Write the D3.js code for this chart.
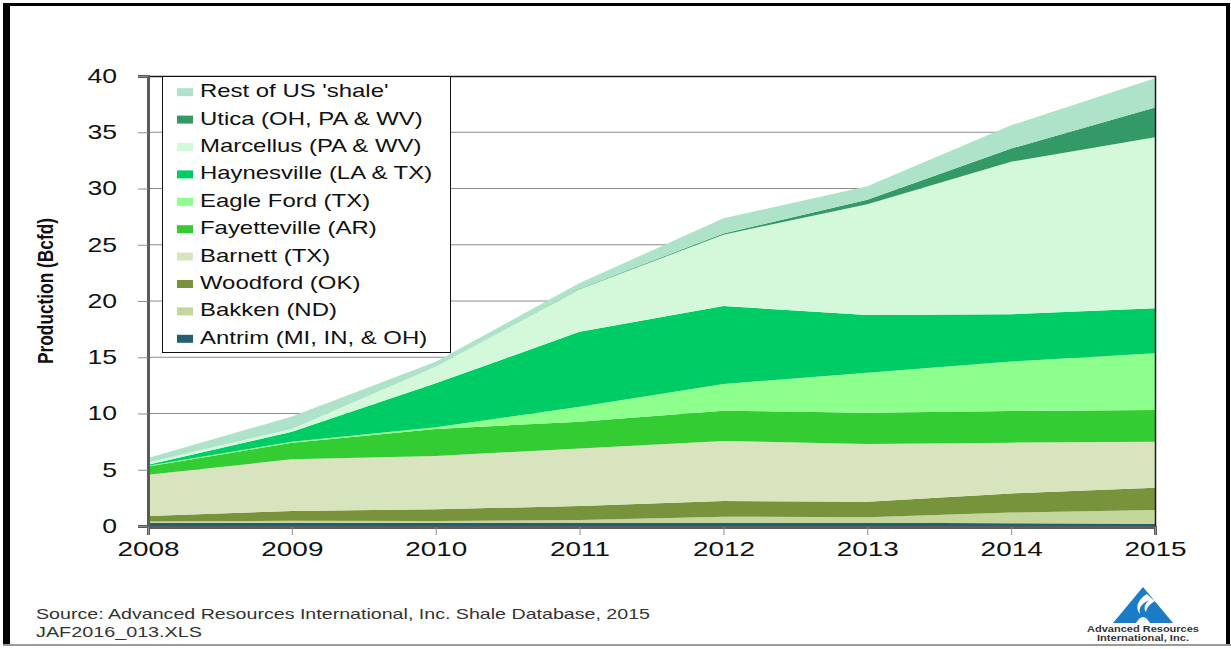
<!DOCTYPE html>
<html>
<head>
<meta charset="utf-8">
<script src="https://cdn.jsdelivr.net/npm/d3@7"></script>
<style>
    body { margin: 0; background: #fff; }
    svg { display: block; font-family: Arial, "Liberation Sans", sans-serif; }
</style>
</head>
<body>
<div id="chart"></div>
<script>
// Shale gas production by play, Bcfd
const years = [2008, 2009, 2010, 2011, 2012, 2013, 2014, 2015];
const antrim       = [0.3, 0.3, 0.3, 0.3, 0.3, 0.3, 0.25, 0.2];
const bakken       = [0.1, 0.17, 0.14, 0.23, 0.53, 0.47, 0.94, 1.22];
const woodford     = [0.5, 0.86, 1.04, 1.25, 1.39, 1.39, 1.71, 1.99];
const barnett      = [3.65, 4.6, 4.74, 5.12, 5.34, 5.13, 4.51, 4.09];
const fayetteville = [0.75, 1.47, 2.4, 2.37, 2.69, 2.78, 2.81, 2.81];
const eagleFord    = [0.05, 0.1, 0.15, 1.33, 2.37, 3.56, 4.4, 5.04];
const haynesville  = [0.1, 0.88, 3.91, 6.67, 6.93, 5.13, 4.2, 4.0];
const marcellus    = [0.2, 0.25, 1.48, 3.77, 6.35, 9.84, 13.56, 15.2];
const utica        = [0, 0, 0, 0.05, 0.1, 0.4, 1.17, 2.65];
const restOfUS     = [0.4, 1.1, 0.44, 0.5, 1.35, 1.2, 2.07, 2.6];

// bottom to top
const seriesNames = [
    'Antrim (MI, IN, & OH)', 'Bakken (ND)', 'Woodford (OK)', 'Barnett (TX)',
    'Fayetteville (AR)', 'Eagle Ford (TX)', 'Haynesville (LA & TX)',
    'Marcellus (PA & WV)', 'Utica (OH, PA & WV)', "Rest of US 'shale'"
];
const seriesValues = [antrim, bakken, woodford, barnett, fayetteville,
    eagleFord, haynesville, marcellus, utica, restOfUS];
const seriesColors = ['#235f6e', '#c3d69b', '#77933c', '#d8e4bd', '#33cc33',
    '#8cff8c', '#00cc66', '#d3f9da', '#339966', '#aee3ca'];
const yTicks = [0, 5, 10, 15, 20, 25, 30, 35, 40];

const SX = 1.33; // text in the source picture is stretched sideways

function renderChart(containerId) {
    const container = d3.select(`#${containerId}`);
    container.selectAll('*').remove();

    const W = 1231, H = 649;
    const plot = { left: 148, right: 1155, top: 76, bottom: 526 };

    const svg = container.append('svg')
        .attr('width', W)
        .attr('height', H);

    svg.append('rect').attr('width', W).attr('height', H).attr('fill', '#fff');

    // outer frame
    svg.append('rect').attr('x', 3).attr('y', 3).attr('width', 7).attr('height', 643).attr('fill', '#000');
    svg.append('rect').attr('x', 3).attr('y', 3).attr('width', 1227).attr('height', 3).attr('fill', '#000');
    svg.append('rect').attr('x', 1226).attr('y', 3).attr('width', 4).attr('height', 643).attr('fill', '#000');
    svg.append('line').attr('x1', 3).attr('x2', 1231).attr('y1', 645).attr('y2', 645)
        .attr('stroke', '#9a9a9a').attr('stroke-width', 2);

    const x = d3.scaleLinear()
        .domain([years[0], years[years.length - 1]])
        .range([plot.left, plot.right]);

    const y = d3.scaleLinear()
        .domain([0, 40])
        .range([plot.bottom, plot.top]);

    // gridlines
    svg.append('g')
        .selectAll('line')
        .data(yTicks.slice(1, -1))
        .enter()
        .append('line')
        .attr('x1', plot.left)
        .attr('x2', plot.right)
        .attr('y1', d => y(d))
        .attr('y2', d => y(d))
        .attr('stroke', '#8c8c8c')
        .attr('stroke-width', 1);

    const table = years.map((yr, i) => {
        const row = { year: yr };
        seriesNames.forEach((n, j) => { row[n] = seriesValues[j][i]; });
        return row;
    });

    const stacked = d3.stack().keys(seriesNames)(table);

    const area = d3.area()
        .x(d => x(d.data.year))
        .y0(d => y(d[0]))
        .y1(d => y(d[1]));

    svg.append('g')
        .selectAll('path')
        .data(stacked)
        .enter()
        .append('path')
        .attr('d', area)
        .attr('fill', (d, i) => seriesColors[i]);

    // plot frame top / right
    svg.append('path')
        .attr('d', `M${plot.left},${plot.top + 0.5}H${plot.right + 0.5}V${plot.bottom}`)
        .attr('fill', 'none')
        .attr('stroke', '#1a1a1a')
        .attr('stroke-width', 1.5);

    // y axis
    const yAxis = svg.append('g')
        .attr('transform', `translate(${plot.left},0)`)
        .call(d3.axisLeft(y).tickValues(yTicks).tickSize(10).tickPadding(21));
    yAxis.select('.domain').attr('stroke', '#5a5a5a').attr('stroke-width', 3);
    yAxis.selectAll('.tick line').attr('stroke', '#8c8c8c');
    yAxis.selectAll('.tick text')
        .style('font-size', '20px')
        .style('font-family', 'Arial, "Liberation Sans", sans-serif')
        .attr('fill', '#111')
        .attr('x', function () { return +d3.select(this).attr('x') / SX; })
        .attr('transform', `scale(${SX},1)`);

    // x axis
    const xAxis = svg.append('g')
        .attr('transform', `translate(0,${plot.bottom + 1})`)
        .call(d3.axisBottom(x).tickValues(years).tickFormat(d3.format('d')).tickSize(8).tickPadding(6));
    xAxis.select('.domain').attr('stroke', '#5e5e5e').attr('stroke-width', 3);
    xAxis.selectAll('.tick line').attr('stroke', '#8c8c8c');
    xAxis.selectAll('.tick text')
        .style('font-size', '21px')
        .style('font-family', 'Arial, "Liberation Sans", sans-serif')
        .attr('fill', '#111')
        .attr('transform', `scale(${SX},1)`);

    // axis title
    svg.append('text')
        .attr('transform', 'translate(53,291) rotate(-90)')
        .attr('text-anchor', 'middle')
        .attr('textLength', 146)
        .attr('lengthAdjust', 'spacingAndGlyphs')
        .style('font-size', '22px')
        .style('font-weight', 'bold')
        .attr('fill', '#111')
        .text('Production (Bcfd)');

    // legend
    const legend = svg.append('g');
    legend.append('rect')
        .attr('x', 162.5).attr('y', 76.5)
        .attr('width', 288).attr('height', 276)
        .attr('fill', '#fff')
        .attr('stroke', '#111')
        .attr('stroke-width', 1);

    const legendOrder = seriesNames.map((n, i) => i).reverse();
    const items = legend.selectAll('.item')
        .data(legendOrder)
        .enter()
        .append('g')
        .attr('class', 'item')
        .attr('transform', (d, i) => `translate(0,${90.7 + i * 27.4})`);

    items.append('rect')
        .attr('x', 177).attr('y', -2.5)
        .attr('width', 16).attr('height', 8)
        .attr('fill', d => seriesColors[d]);

    items.append('text')
        .attr('x', 200 / SX)
        .attr('y', 0)
        .attr('dy', '0.36em')
        .attr('transform', `scale(${SX},1)`)
        .style('font-size', '18px')
        .attr('fill', '#111')
        .text(d => seriesNames[d]);

    // source note
    svg.append('text')
        .attr('x', 36).attr('y', 619)
        .attr('textLength', 614)
        .attr('lengthAdjust', 'spacingAndGlyphs')
        .style('font-size', '15px')
        .attr('fill', '#333')
        .text('Source: Advanced Resources International, Inc. Shale Database, 2015');
    svg.append('text')
        .attr('x', 36).attr('y', 637)
        .attr('textLength', 166)
        .attr('lengthAdjust', 'spacingAndGlyphs')
        .style('font-size', '15px')
        .attr('fill', '#333')
        .text('JAF2016_013.XLS');

    // logo
    const logo = svg.append('g').attr('transform', 'translate(1143,0)');
    logo.append('path')
        .attr('d', 'M0,587 L30,623 L7,623 Q0,611 -7,623 L-30,623 Z')
        .attr('fill', '#1b7bc6');
    logo.append('path')
        .attr('d', 'M4,594 C-6,600 -8,608 -3,614 C-5,607 0,603 6,600 C2,604 0,608 3,612 C4,606 9,603 12,601 C8,598 6,596 4,594 Z')
        .attr('fill', '#fff');
    logo.append('text')
        .attr('x', 0).attr('y', 632)
        .attr('text-anchor', 'middle')
        .attr('textLength', 112)
        .attr('lengthAdjust', 'spacingAndGlyphs')
        .style('font-size', '9px')
        .style('font-weight', 'bold')
        .attr('fill', '#333')
        .text('Advanced Resources');
    logo.append('text')
        .attr('x', 0).attr('y', 641)
        .attr('text-anchor', 'middle')
        .attr('textLength', 92)
        .attr('lengthAdjust', 'spacingAndGlyphs')
        .style('font-size', '9px')
        .style('font-weight', 'bold')
        .attr('fill', '#333')
        .text('International, Inc.');
}

renderChart('chart');
</script>
</body>
</html>
